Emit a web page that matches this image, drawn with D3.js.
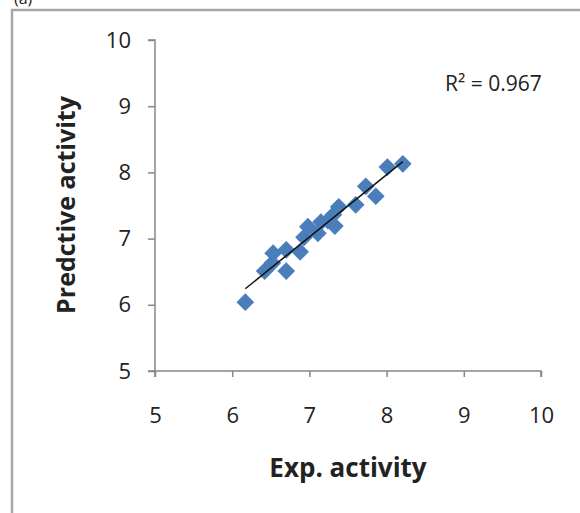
<!DOCTYPE html>
<html>
<head>
<meta charset="utf-8">
<script src="https://cdn.jsdelivr.net/npm/d3@7"></script>
<style>
  body { margin: 0; background: #fff; }
  svg text { font-family: "Open Sans", "Liberation Sans", sans-serif; fill: #222; }
</style>
</head>
<body>
<div id="holder"></div>
<script>
// exp. vs predicted activity
var expActivity  = [6.17, 6.42, 6.52, 6.53, 6.70, 6.70, 6.88, 6.93, 6.98, 7.11,
                    7.15, 7.24, 7.31, 7.33, 7.38, 7.60, 7.73, 7.86, 8.01, 8.21];
var predActivity = [6.04, 6.51, 6.63, 6.78, 6.51, 6.83, 6.80, 7.02, 7.18, 7.08,
                    7.25, 7.27, 7.36, 7.19, 7.48, 7.51, 7.79, 7.64, 8.08, 8.13];
var xTicks = [5, 6, 7, 8, 9, 10];
var yTicks = [5, 6, 7, 8, 9, 10];
var r2Label = "R² = 0.967";

var fullWidth = 580, fullHeight = 513;
var margin = {top: 40, left: 155, right: 39, bottom: 142};

var svg = d3.select('#holder').append('svg')
  .attr('width', fullWidth)
  .attr('height', fullHeight);

// frame (only top + left edges are visible in the crop)
svg.append('path')
  .attr('d', 'M12,' + fullHeight + 'V10H' + fullWidth)
  .attr('fill', 'none')
  .attr('stroke', '#a6a6a6')
  .attr('stroke-width', 2.5);

svg.append('text')
  .attr('x', 14).attr('y', 4)
  .style('font-size', '16px')
  .text('(a)');

var xScale = d3.scaleLinear().domain([5, 10]).range([margin.left, fullWidth - margin.right]);
var yScale = d3.scaleLinear().domain([5, 10]).range([fullHeight - margin.bottom, margin.top]);

var x_axis = d3.axisBottom(xScale).tickValues(xTicks).tickFormat(d3.format('d')).tickSize(6).tickPadding(30);
var y_axis = d3.axisLeft(yScale).tickValues(yTicks).tickFormat(d3.format('d')).tickSize(7).tickPadding(17);

var gx = svg.append('g')
  .attr('transform', 'translate(0,' + yScale(5) + ')')
  .call(x_axis);
var gy = svg.append('g')
  .attr('transform', 'translate(' + xScale(5) + ',0)')
  .call(y_axis);

[gx, gy].forEach(function(g) {
  g.select('.domain').attr('stroke', '#868686').attr('stroke-width', 1.5);
  g.selectAll('.tick line').attr('stroke', '#868686').attr('stroke-width', 1.5);
  g.selectAll('.tick text')
    .style('font-size', '22px')
    .style('font-family', '"Open Sans", sans-serif')
    .attr('fill', '#222');
});
// outer ticks at domain ends like excel
gx.select('.domain').attr('d', 'M' + xScale(5) + ',6V0H' + xScale(10) + 'V6');
gy.select('.domain').attr('d', 'M-7,' + yScale(10) + 'H0V' + yScale(5) + 'H-7');

// points
var pts = expActivity.map(function(d, i) { return {x: d, y: predActivity[i]}; });

// least squares trend line
var mx = d3.mean(expActivity), my = d3.mean(predActivity);
var sxy = d3.sum(pts, function(p) { return (p.x - mx) * (p.y - my); });
var sxx = d3.sum(pts, function(p) { return (p.x - mx) * (p.x - mx); });
var slope = sxy / sxx, intercept = my - slope * mx;
var xExt = d3.extent(expActivity);

svg.append('g').selectAll('path')
  .data(pts)
  .enter().append('path')
  .attr('d', d3.symbol().type(d3.symbolDiamond2).size(200))
  .attr('transform', function(d) { return 'translate(' + xScale(d.x) + ',' + yScale(d.y) + ')'; })
  .attr('fill', '#4a7ebb');

svg.append('line')
  .attr('x1', xScale(xExt[0])).attr('y1', yScale(slope * xExt[0] + intercept))
  .attr('x2', xScale(xExt[1])).attr('y2', yScale(slope * xExt[1] + intercept))
  .attr('stroke', '#111')
  .attr('stroke-width', 1.5);

svg.append('text')
  .attr('x', 445).attr('y', 91)
  .style('font-size', '21px')
  .text(r2Label);

svg.append('text')
  .attr('x', 348).attr('y', 477)
  .attr('text-anchor', 'middle')
  .style('font-size', '26px')
  .style('font-weight', 'bold')
  .text('Exp. activity');

svg.append('text')
  .attr('transform', 'translate(75,205) rotate(-90)')
  .attr('text-anchor', 'middle')
  .style('font-size', '25px')
  .style('font-weight', 'bold')
  .text('Predctive activity');
</script>
</body>
</html>
